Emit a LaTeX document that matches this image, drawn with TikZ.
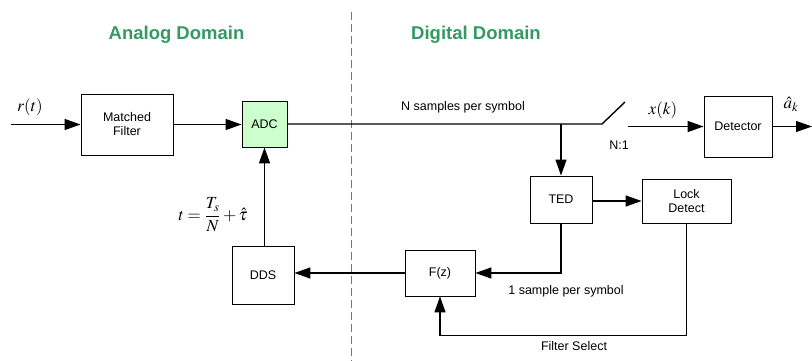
\documentclass[tikz,border=0pt]{standalone}
\usepackage{mathptmx}
\usepackage[no-math]{fontspec}
\setmainfont{Liberation Sans}
\usetikzlibrary{arrows.meta,calc}
\definecolor{domaingreen}{RGB}{52,154,98}
\definecolor{adcfill}{RGB}{204,255,204}
\tikzset{
  block/.style={draw, line width=0.9pt, fill=white, inner sep=0pt, align=center,
    font=\fontsize{12.5}{14}\selectfont},
  wire/.style={line width=1.4pt},
  flow/.style={wire, -{Triangle[length=16pt,width=11pt]}},
  lbl/.style={inner sep=0pt, font=\fontsize{12.5}{14}\selectfont},
  mlbl/.style={inner sep=0pt, font=\fontsize{17}{19}\selectfont},
  heading/.style={inner sep=0pt, text=domaingreen, font=\fontsize{18.5}{20}\selectfont\bfseries}
}
\begin{document}
\begin{tikzpicture}[x=1pt,y=-1pt]
\useasboundingbox (0,0) rectangle (812,361);

% domain separator and headings
\draw[domaingreen, line width=1pt, dash pattern=on 8pt off 4pt] (351,12) -- (351,361);
\node[heading] (analog) at (176.5,35) {Analog Domain};
\node[heading] (digital) at (476,35) {Digital Domain};

% blocks
\node[block, minimum width=92pt, minimum height=61pt] (mf) at (127,124.5) {Matched\\Filter};
\node[block, fill=adcfill, minimum width=45pt, minimum height=46pt] (adc) at (264.5,124) {ADC};
\node[block, minimum width=62pt, minimum height=47pt] (ted) at (561,199.5) {TED};
\node[block, minimum width=89pt, minimum height=44pt] (lock) at (686.5,201) {Lock\\Detect};
\node[block, minimum width=68pt, minimum height=61pt] (det) at (738,126.5) {Detector};
\node[block, minimum width=70pt, minimum height=46pt] (fz) at (440,273) {F(z)};
\node[block, minimum width=62pt, minimum height=58pt] (dds) at (263,275) {DDS};

% helper points
\coordinate (in) at (11,124.5);
\coordinate (junc) at (561,124);
\coordinate (swA) at (602,124);
\coordinate (swB) at (625,102);
\coordinate (swC) at (628,126.5);
\coordinate (out) at (812,126.5);

% forward path
\draw[flow] (in) -- (mf.west);
\draw[flow] (mf.east) -- (mf.east -| adc.west);
\draw[wire] (adc.east |- swA) -- (swA) -- (swB);
\draw[flow] (junc) -- (ted.north);
\draw[flow] (swC) -- (det.west);
\draw[flow] (det.east) -- (out);

% timing loop
\draw[flow] (ted.east |- lock.west) -- (lock.west);
\draw[flow] (ted.south) |- (fz.east);
\draw[flow] (lock.south) -- ++(0,112) -| (fz.south);
\draw[flow] (fz.west) -- (fz.west -| dds.east);
\draw[flow] (dds.north -| adc.south) -- (adc.south);

% labels
\node[mlbl] (rt) at (30,107) {$r(t)$};
\node[mlbl] (xk) at (663,110) {$x(k)$};
\node[mlbl] (ak) at (791,104) {$\hat{a}_k$};
\node[mlbl] (tform) at (213,215) {$\displaystyle t=\frac{T_s}{N}+\hat{\tau}$};
\node[lbl] (nsps) at (463,107) {N samples per symbol};
\node[lbl] (ratio) at (619,145) {N:1};
\node[lbl] (osps) at (566,291) {1 sample per symbol};
\node[lbl] (fsel) at (574,346) {Filter Select};
\end{tikzpicture}
\end{document}
